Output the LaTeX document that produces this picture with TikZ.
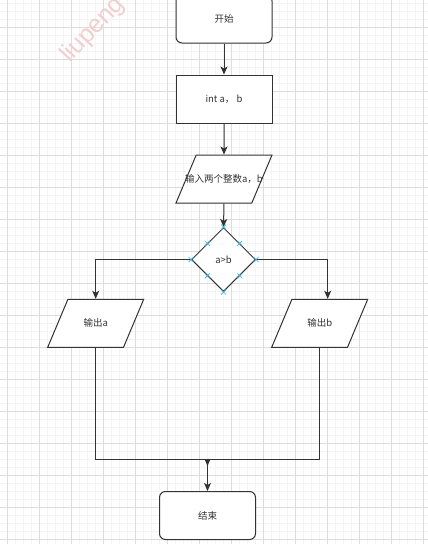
\documentclass[tikz,border=0pt]{standalone}
\usepackage{fontspec}
\newfontfamily\cjk{Noto Sans CJK SC}
\newfontfamily\wmfont{Liberation Sans}
\usetikzlibrary{shapes.geometric,arrows.meta,calc}
\definecolor{ln}{HTML}{333333}
\definecolor{gmin}{HTML}{F4F4F4}
\definecolor{gmaj}{HTML}{DDDDDD}
\definecolor{cp}{HTML}{29B6F2}
\definecolor{wm}{HTML}{F0CFCF}
\begin{document}
\begin{tikzpicture}[x=1pt,y=-1pt,
  every node/.style={font=\cjk\fontsize{9.5}{11}\selectfont, text=ln},
  base/.style={draw=ln, line width=1pt, fill=white, inner sep=0pt, minimum width=96pt, minimum height=48pt},
  termbox/.style={base, rectangle, rounded corners=6pt},
  procbox/.style={base, rectangle},
  iobox/.style={base, trapezium, trapezium left angle=71.57, trapezium right angle=108.43, trapezium stretches=true, label={[inner sep=0pt]center:#1}},
  decbox/.style={base, diamond, minimum width=64pt, minimum height=64pt, aspect=1},
  conn/.style={draw=ln, line width=1pt, -{Stealth[length=8pt,width=7pt,inset=2pt]}},
  plainconn/.style={draw=ln, line width=1pt},
  cpmark/.style={draw=cp, line width=0.7pt}
]
\useasboundingbox (0,0) rectangle (428,544);
\fill[white] (0,0) rectangle (428,544);
% grid
\foreach \x in {7,15,...,428} \draw[gmin, line width=0.8pt] (\x,0) -- (\x,544);
\foreach \y in {3,11,...,544} \draw[gmin, line width=0.8pt] (0,\y) -- (428,\y);
\foreach \x in {7,39,...,428} \draw[gmaj, line width=0.8pt] (\x,0) -- (\x,544);
\foreach \y in {27,59,...,544} \draw[gmaj, line width=0.8pt] (0,\y) -- (428,\y);
% watermark
\node[rotate=47, anchor=base west, inner sep=0pt, font=\wmfont\fontsize{25}{28}\selectfont, text=wm] (wmark) at (70,64) {liupeng};
% nodes
\node[termbox] (start) at (224,19) {开始};
\node[procbox] (init) at (224,99) {int a， b};
\node[iobox={输入两个整数a，b}] (input) at (224,179) {\phantom{x}};
\node[decbox] (cond) at (223.5,259.5) {a>b};
\node[iobox={输出a}] (outa) at (95.7,323.3) {\phantom{x}};
\node[iobox={输出b}] (outb) at (319.7,323.3) {\phantom{x}};
\node[termbox] (finish) at (207.5,515.5) {结束};
\coordinate (rb) at ($(outb.north)+(8,0)$);
\coordinate (jn) at (207.5,459);
% connectors
\draw[conn] (start.south) -- (init.north);
\draw[conn] (init.south) -- (input.north);
\draw[conn] (input.south) -- (cond.north);
\draw[conn] (cond.west) -| (outa.north);
\draw[conn] (cond.east) -| (rb);
\draw[plainconn] (outa.south) |- (jn);
\draw[plainconn] (outb.south) |- (jn);
\draw[conn] (jn) -- (finish.north);
\fill[ln] (204.5,459) -- (210.5,459) -- (207.5,466) -- cycle;
% connection point markers
\foreach \p in {(cond.north),(cond.south),(cond.east),(cond.west),
  ($(cond.north)!0.5!(cond.east)$),($(cond.north)!0.5!(cond.west)$),
  ($(cond.south)!0.5!(cond.east)$),($(cond.south)!0.5!(cond.west)$)}
  \draw[cpmark] \p ++(-2.5,-2.5) -- ++(5,5) \p ++(-2.5,2.5) -- ++(5,-5);
\end{tikzpicture}
\end{document}
